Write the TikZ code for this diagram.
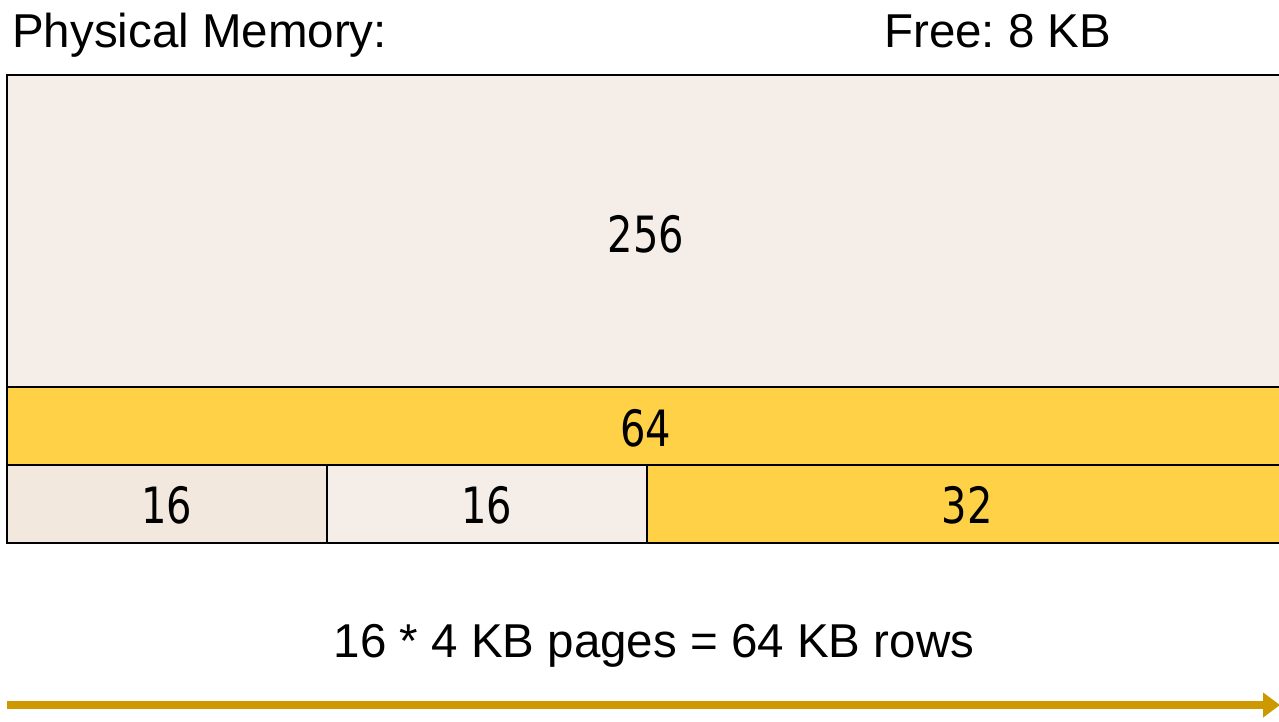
\documentclass[tikz,border=0pt]{standalone}
\usepackage{fontspec}
\setmainfont{Liberation Sans}
\newfontfamily\numfont[FakeStretch=0.8]{DejaVu Sans}
\usetikzlibrary{arrows.meta}
\definecolor{memtan}{HTML}{F5EDE7}
\definecolor{memtandark}{HTML}{F2E8DE}
\definecolor{memgold}{HTML}{FFD147}
\definecolor{arrowgold}{HTML}{CC9900}
\tikzset{
  cell/.style={draw=black, line width=2pt, inner sep=0pt, outer sep=0pt},
  label text/.style={font=\fontsize{47.5}{50}\selectfont, inner sep=0pt, text=black},
  size text/.style={font=\numfont\fontsize{50}{54}\selectfont, inner sep=0pt, text=black, anchor=base},
  rowarrow/.style={draw=arrowgold, line width=8pt, -{Triangle[length=17pt,width=24pt]}}
}
\frenchspacing
\begin{document}
\begin{tikzpicture}[x=1pt,y=-1pt]
\useasboundingbox (0,0) rectangle (1279,721);
\fill[white] (0,0) rectangle (1279,721);

% memory blocks
\node[cell, fill=memtan, minimum width=1278pt, minimum height=312pt, anchor=north west] (b256) at (7,75) {};
\node[cell, fill=memgold, minimum width=1278pt, minimum height=78pt, anchor=north west] (b64) at (7,387) {};
\node[cell, fill=memtandark, minimum width=320pt, minimum height=78pt, anchor=north west] (b16a) at (7,465) {};
\node[cell, fill=memtan, minimum width=320pt, minimum height=78pt, anchor=north west] (b16b) at (327,465) {};
\node[cell, fill=memgold, minimum width=640pt, minimum height=78pt, anchor=north west] (b32) at (647,465) {};

% block sizes
\node[size text] (t256) at (646,252) {256};
\node[size text] (t64) at (646,446) {64};
\node[size text] (t16a) at (167,523) {16};
\node[size text] (t16b) at (487,523) {16};
\node[size text] (t32) at (967,523) {32};

% captions
\node[label text, anchor=base west] (title) at (12,47) {Physical Memory:};
\node[label text, anchor=base west] (free) at (884,47) {Free: 8 KB};
\node[label text, anchor=base] (rows) at (654,657) {16 * 4 KB pages = 64 KB rows};

% address direction
\coordinate (as) at (7,705);
\coordinate (ae) at (1280,705);
\draw[rowarrow] (as) -- (ae);
\end{tikzpicture}
\end{document}
